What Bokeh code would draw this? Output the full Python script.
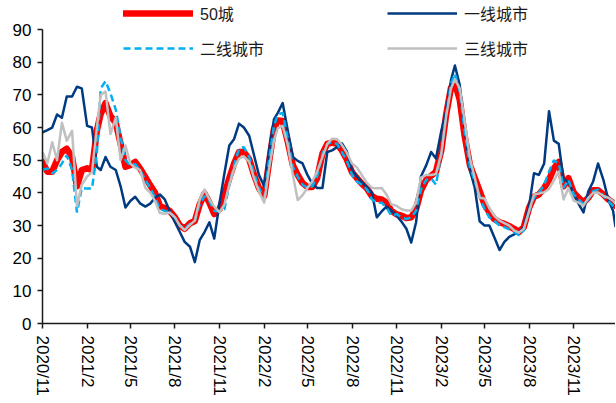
import pandas as pd
from bokeh.plotting import figure
from bokeh.models import Range1d, FixedTicker, Legend, LegendItem
from bokeh.embed import file_html
from bokeh.resources import INLINE

# ---- data (10-day sampling) ----
dates = [
    "2020-11-01","2020-11-11","2020-11-21","2020-12-01","2020-12-11","2020-12-21",
    "2021-01-01","2021-01-11","2021-01-21","2021-02-01","2021-02-11","2021-02-21",
    "2021-03-01","2021-03-11","2021-03-21","2021-04-01","2021-04-11","2021-04-21",
    "2021-05-01","2021-05-11","2021-05-21","2021-06-01","2021-06-11","2021-06-21",
    "2021-07-01","2021-07-11","2021-07-21","2021-08-01","2021-08-11","2021-08-21",
    "2021-09-01","2021-09-11","2021-09-21","2021-10-01","2021-10-11","2021-10-21",
    "2021-11-01","2021-11-11","2021-11-21","2021-12-01","2021-12-11","2021-12-21",
    "2022-01-01","2022-01-11","2022-01-21","2022-02-01","2022-02-11","2022-02-21",
    "2022-03-01","2022-03-11","2022-03-21","2022-04-01","2022-04-11","2022-04-21",
    "2022-05-01","2022-05-11","2022-05-21","2022-06-01","2022-06-11","2022-06-21",
    "2022-07-01","2022-07-11","2022-07-21","2022-08-01","2022-08-11","2022-08-21",
    "2022-09-01","2022-09-11","2022-09-21","2022-10-01","2022-10-11","2022-10-21",
    "2022-11-01","2022-11-11","2022-11-21","2022-12-01","2022-12-11","2022-12-21",
    "2023-01-01","2023-01-11","2023-01-21","2023-02-01","2023-02-11","2023-02-21",
    "2023-03-01","2023-03-11","2023-03-21","2023-04-01","2023-04-11","2023-04-21",
    "2023-05-01","2023-05-11","2023-05-21","2023-06-01","2023-06-11","2023-06-21",
    "2023-07-01","2023-07-11","2023-07-21","2023-08-01","2023-08-11","2023-08-21",
    "2023-09-01","2023-09-11","2023-09-21","2023-10-01","2023-10-11","2023-10-21",
    "2023-11-01","2023-11-11","2023-11-21","2023-12-01","2023-12-11","2023-12-21",
    "2024-01-01","2024-01-11","2024-01-21","2024-01-26",
]

city50 = [
    49.5, 46.5, 46.5, 50.0, 52.5, 53.5, 51.0, 42.0, 47.0, 47.5, 47.0, 59.0,
    64.2, 67.5, 63.5, 61.5, 55.0, 48.0, 48.5, 49.5, 47.5, 44.8, 42.3, 40.0,
    36.0, 35.3, 34.5, 32.5, 30.0, 29.0, 30.7, 31.4, 36.5, 39.8, 37.0, 33.5,
    35.0, 39.5, 44.5, 49.0, 52.5, 52.5, 50.3, 45.5, 41.5, 39.0, 49.5, 59.5,
    62.2, 62.0, 56.0, 48.5, 45.5, 43.0, 41.8, 41.8, 44.5, 52.0, 55.0, 55.4,
    55.0, 53.0, 50.3, 46.3, 44.5, 42.8, 41.3, 39.0, 38.2, 38.0, 37.0, 34.5,
    33.4, 33.0, 32.3, 32.5, 35.0, 40.7, 44.0, 45.2, 46.5, 53.0, 64.0, 72.2,
    73.7, 68.5, 57.5, 48.5, 44.5, 40.5, 36.5, 34.0, 32.0, 31.0, 30.5, 29.8,
    29.0, 28.0, 29.5, 35.5, 38.8, 39.5, 41.5, 44.0, 47.5, 49.5, 42.0, 44.5,
    40.0, 38.5, 37.0, 38.5, 40.8, 40.8, 39.5, 38.0, 37.0, 36.0,
]

tier1 = [
    58.5, 59.2, 60.0, 64.0, 63.0, 69.5, 69.5, 72.5, 72.0, 60.5, 60.0, 48.0,
    47.0, 51.0, 48.0, 47.0, 42.0, 35.5, 37.5, 38.8, 36.8, 35.8, 36.7, 38.5,
    39.5, 38.0, 34.5, 31.0, 28.0, 25.0, 23.5, 18.8, 25.5, 28.0, 31.0, 26.0,
    37.0, 46.0, 54.5, 56.5, 61.2, 60.0, 57.5, 51.5, 45.5, 42.0, 53.0, 62.5,
    64.5, 67.5, 59.5, 51.0, 49.8, 49.0, 45.5, 42.8, 41.5, 41.5, 52.5, 53.0,
    54.0, 55.2, 52.8, 47.0, 45.0, 43.3, 41.7, 40.0, 32.5, 34.3, 35.8, 34.6,
    33.0, 31.2, 29.0, 24.8, 31.0, 45.0, 48.5, 52.5, 50.5, 59.0, 65.0, 74.5,
    79.0, 73.0, 60.0, 47.0, 41.5, 31.3, 30.0, 30.0, 26.5, 22.5, 25.0, 26.5,
    27.3, 28.0, 29.5, 36.0, 46.0, 45.5, 49.0, 65.0, 56.0, 55.0, 44.0, 43.5,
    39.5, 36.6, 34.0, 40.5, 43.5, 49.0, 44.0, 38.0, 34.5, 29.5,
]

tier2 = [
    47.0, 47.5, 46.0, 47.0, 49.0, 51.5, 47.0, 34.0, 41.5, 41.3, 41.3, 52.0,
    72.0, 74.2, 70.5, 65.5, 57.0, 50.0, 48.5, 48.8, 47.0, 44.0, 41.5, 38.5,
    35.0, 34.5, 34.0, 32.5, 30.0, 29.0, 30.5, 31.5, 36.5, 39.0, 37.5, 34.5,
    34.3, 35.0, 42.5, 48.5, 53.5, 54.0, 51.0, 46.0, 41.5, 38.5, 50.0, 60.5,
    64.0, 64.5, 57.0, 48.0, 45.0, 42.5, 41.5, 42.0, 45.0, 52.0, 55.0, 55.5,
    55.0, 52.5, 50.0, 45.5, 43.5, 42.5, 41.0, 38.0, 37.0, 37.0, 35.5, 33.0,
    33.5, 32.5, 32.0, 32.5, 34.5, 41.0, 44.0, 44.5, 42.5, 52.0, 64.0, 73.5,
    76.5, 71.0, 59.0, 48.0, 43.5, 39.0, 35.0, 32.5, 31.5, 30.0, 29.5, 28.8,
    28.0, 27.0, 28.5, 34.5, 38.5, 40.0, 42.5, 46.5, 50.0, 49.0, 41.5, 44.0,
    39.5, 38.0, 36.5, 38.0, 40.5, 41.0, 39.0, 37.5, 36.0, 35.0,
]

tier3 = [
    52.5, 49.0, 55.5, 50.0, 61.5, 56.0, 59.0, 36.0, 42.5, 45.0, 46.3, 60.0,
    70.0, 71.0, 58.0, 63.0, 50.0, 54.5, 49.0, 47.7, 47.0, 41.5, 40.1, 37.5,
    33.8, 33.6, 34.0, 32.5, 30.0, 28.6, 30.2, 31.5, 38.0, 41.0, 38.0, 35.8,
    34.0, 36.5, 42.5, 47.5, 50.5, 51.2, 49.5, 44.5, 40.5, 37.0, 47.5, 56.0,
    59.8, 60.5, 55.0, 45.5, 37.8, 39.3, 41.5, 43.5, 46.5, 51.0, 55.0, 56.6,
    56.5, 54.7, 52.3, 49.0, 47.8, 45.5, 43.0, 41.5, 41.4, 41.5, 39.5, 36.5,
    36.0, 35.0, 34.6, 34.6, 37.0, 44.7, 45.5, 45.5, 45.8, 52.0, 63.5, 72.0,
    74.8, 72.0, 62.0, 50.5, 44.5, 38.5, 38.3, 35.3, 33.0, 31.5, 30.7, 30.0,
    28.5, 27.8, 29.0, 34.5, 39.5, 39.8, 40.2, 41.2, 43.8, 46.5, 38.0, 41.5,
    37.6, 37.0, 36.1, 38.5, 40.0, 40.1, 39.1, 38.5, 37.6, 36.7,
]

tick_labels = ["2020/11", "2021/2", "2021/5", "2021/8", "2021/11", "2022/2",
               "2022/5", "2022/8", "2022/11", "2023/2", "2023/5", "2023/8", "2023/11"]
y_ticks = [0, 10, 20, 30, 40, 50, 60, 70, 80, 90]

# ---- build ----
x = pd.to_datetime(dates)
tick_dt = pd.to_datetime([t + "/1" for t in tick_labels], format="%Y/%m/%d")
tick_ms = [float(t.value // 10**6) for t in tick_dt]

# frame runs to the top edge so the legend (which overlaps the top) is not clipped;
# the y axis itself is bounded to 0..90
p = figure(width=615, height=400, x_axis_type="datetime",
           output_backend="svg", toolbar_location=None,
           min_border_left=42, min_border_right=0,
           min_border_top=0, min_border_bottom=77)
p.x_range = Range1d(start=x[0], end=x[-1])
p.y_range = Range1d(start=0, end=98.9)
p.outline_line_color = None
p.xgrid.visible = False
p.ygrid.visible = False
p.background_fill_color = "white"
p.border_fill_color = "white"

r50 = p.line(x, city50, line_color="#FF0000", line_width=6.5, line_join="round", line_cap="round")
r1 = p.line(x, tier1, line_color="#003A80", line_width=2.5, line_join="round")
r2 = p.line(x, tier2, line_color="#00B0F0", line_width=2.5, line_dash="7 4")
r3 = p.line(x, tier3, line_color="#C0C0C0", line_width=2.5, line_join="round")

for ax in (p.xaxis[0], p.yaxis[0]):
    ax.axis_line_color = "#1a1a1a"
    ax.axis_line_width = 1.5
    ax.major_tick_line_color = "#1a1a1a"
    ax.major_tick_line_width = 1.5
    ax.major_tick_in = 0
    ax.major_tick_out = 5
    ax.minor_tick_line_color = None
    ax.major_label_text_font = "Liberation Sans"
    ax.major_label_text_font_size = "17px"
    ax.major_label_text_color = "#000000"

p.yaxis[0].ticker = FixedTicker(ticks=y_ticks)
p.yaxis[0].bounds = (0, 90)
p.yaxis[0].major_label_standoff = 6
p.xaxis[0].ticker = FixedTicker(ticks=tick_ms)
p.xaxis[0].major_label_overrides = {ms: lab for ms, lab in zip(tick_ms, tick_labels)}
p.xaxis[0].major_label_orientation = "vertical"
p.xaxis[0].major_label_standoff = 7

font = "Liberation Sans, Noto Sans CJK SC"
leg1 = Legend(items=[LegendItem(label="50城", renderers=[r50]),
                     LegendItem(label="二线城市", renderers=[r2])],
              location=(81, 263))
leg2 = Legend(items=[LegendItem(label="一线城市", renderers=[r1]),
                     LegendItem(label="三线城市", renderers=[r3])],
              location=(345, 263))
for lg in (leg1, leg2):
    lg.orientation = "vertical"
    lg.padding = 0
    lg.margin = 0
    lg.spacing = 11
    lg.glyph_width = 70
    lg.glyph_height = 20
    lg.label_height = 20
    lg.label_standoff = 7
    lg.label_text_font = font
    lg.label_text_font_size = "16px"
    lg.label_text_color = "#1a1a1a"
    lg.border_line_color = None
    lg.background_fill_alpha = 0
    p.add_layout(lg, "center")

open("out.html", "w").write(file_html(p, INLINE))
